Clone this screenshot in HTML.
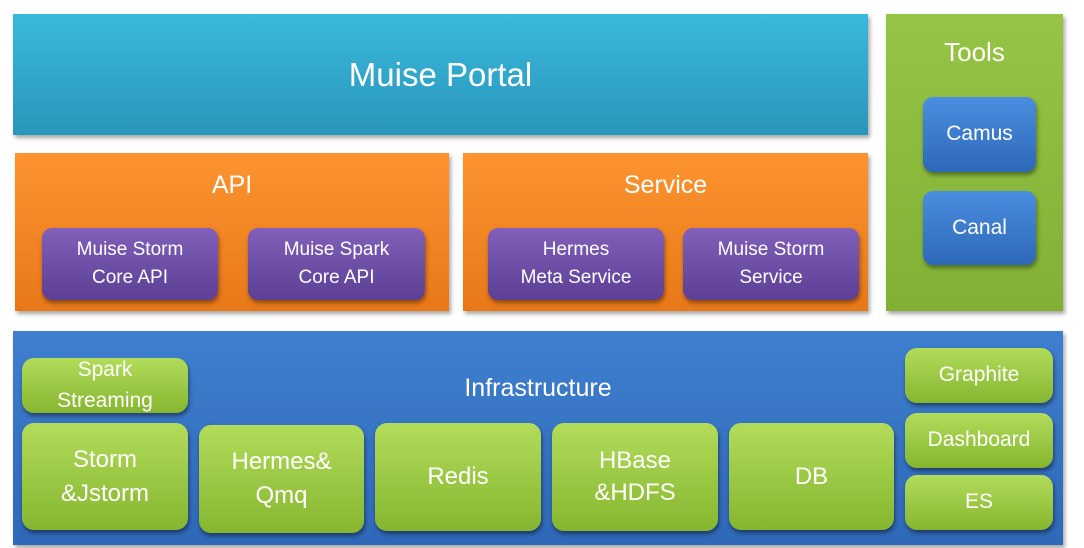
<!DOCTYPE html><html><head><style>
body{margin:0;width:1084px;height:548px;background:#fff;position:relative;overflow:hidden;font-family:"Liberation Sans",sans-serif;color:#fff}
.b{position:absolute;box-sizing:border-box;display:flex;align-items:center;justify-content:center;text-align:center;line-height:1.25}
.sh{box-shadow:2px 3px 4px rgba(0,0,0,.35)}
.p{background:linear-gradient(#8060b8,#5d3f96);border-radius:10px;font-size:19px;line-height:1.45;box-shadow:1px 3px 4px rgba(0,0,0,.4)}
.g{background:linear-gradient(#b2dc5a,#86b630);border-radius:12px;box-shadow:1px 3px 4px rgba(0,0,0,.45);font-size:24px}
.bl{background:linear-gradient(#4a8ee0,#2e68b8);border-radius:10px;font-size:21px;box-shadow:1px 3px 4px rgba(0,0,0,.4)}
.t{position:absolute;text-align:center}
</style></head><body>
<div class="b sh" style="left:13px;top:14px;width:855px;height:121px;background:linear-gradient(#3ab8dc,#2996bb);font-size:33px">Muise Portal</div>
<div class="b sh" style="left:886px;top:14px;width:177px;height:297px;background:linear-gradient(#96c445,#82b035)"></div>
<div class="t" style="left:886px;top:37px;width:177px;font-size:26px">Tools</div>
<div class="b bl" style="left:923px;top:97px;width:113px;height:75px">Camus</div>
<div class="b bl" style="left:923px;top:191px;width:113px;height:74px">Canal</div>
<div class="b sh" style="left:15px;top:153px;width:434px;height:158px;background:linear-gradient(#fc9430,#e87818)"></div>
<div class="t" style="left:15px;top:171px;width:434px;font-size:25px">API</div>
<div class="b sh" style="left:463px;top:153px;width:405px;height:158px;background:linear-gradient(#fc9430,#e87818)"></div>
<div class="t" style="left:463px;top:171px;width:405px;font-size:25px">Service</div>
<div class="b p" style="left:42px;top:228px;width:176px;height:72px">Muise Storm<br>Core API</div>
<div class="b p" style="left:248px;top:228px;width:177px;height:72px">Muise Spark<br>Core API</div>
<div class="b p" style="left:488px;top:228px;width:176px;height:72px">Hermes<br>Meta Service</div>
<div class="b p" style="left:683px;top:228px;width:176px;height:72px">Muise Storm<br>Service</div>
<div class="b sh" style="left:13px;top:331px;width:1050px;height:214px;background:linear-gradient(#3f7fcf,#2f68b8)"></div>
<div class="t" style="left:13px;top:374px;width:1050px;font-size:25px">Infrastructure</div>
<div class="b g" style="left:22px;top:358px;width:166px;height:55px;font-size:21px;line-height:1.45">Spark<br>Streaming</div>
<div class="b g" style="left:22px;top:423px;width:166px;height:107px;line-height:1.4">Storm<br>&amp;Jstorm</div>
<div class="b g" style="left:199px;top:425px;width:165px;height:108px;line-height:1.4">Hermes&amp;<br>Qmq</div>
<div class="b g" style="left:375px;top:423px;width:166px;height:108px">Redis</div>
<div class="b g" style="left:552px;top:423px;width:166px;height:108px;line-height:1.35">HBase<br>&amp;HDFS</div>
<div class="b g" style="left:729px;top:423px;width:165px;height:107px">DB</div>
<div class="b g" style="left:905px;top:348px;width:148px;height:55px;font-size:21px">Graphite</div>
<div class="b g" style="left:905px;top:413px;width:148px;height:55px;font-size:21px">Dashboard</div>
<div class="b g" style="left:905px;top:475px;width:148px;height:55px;font-size:21px">ES</div>
</body></html>
